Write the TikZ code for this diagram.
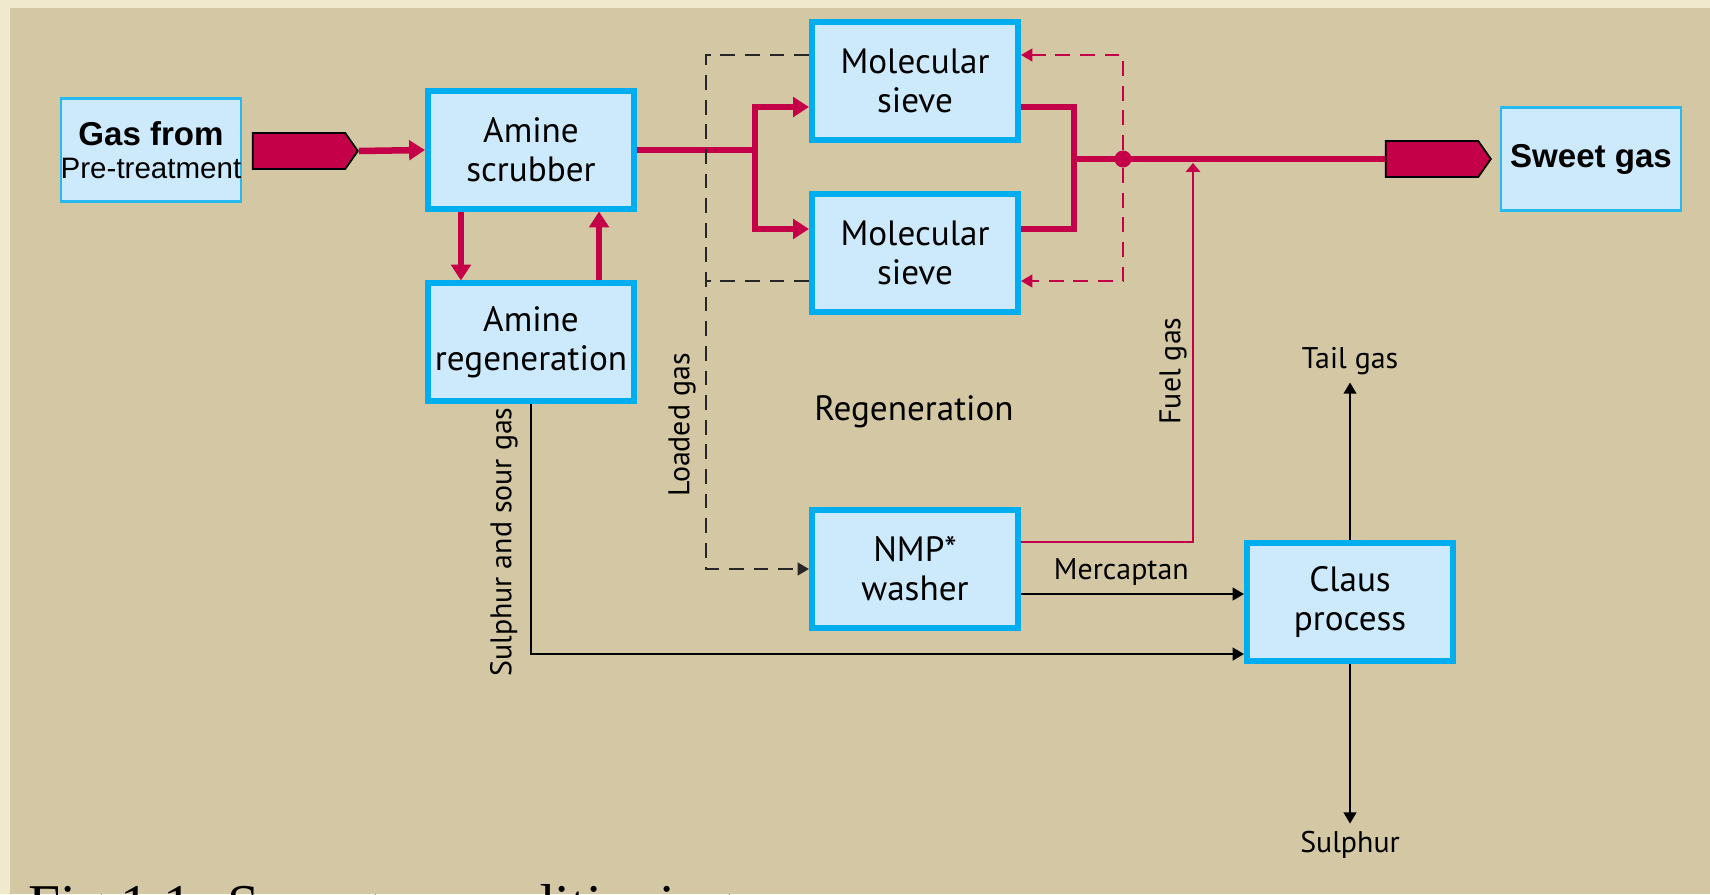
\documentclass[tikz,border=0pt]{standalone}
\usepackage{fontspec}
\setmainfont{PT Sans}
\newfontfamily\arialfont{Liberation Sans}
\newfontfamily\timesfont{Liberation Serif}
\usetikzlibrary{shapes.symbols, arrows.meta}
\definecolor{pagetan}{RGB}{211,200,163}
\definecolor{pageedge}{RGB}{240,233,206}
\definecolor{boxblue}{RGB}{0,174,239}
\definecolor{boxfill}{RGB}{204,234,252}
\definecolor{gasred}{RGB}{196,0,72}

\begin{document}
\begin{tikzpicture}[>={Triangle[length=3.2pt,width=3.6pt]}, x=0.01cm, y=-0.01cm]

        % Styles
        \tikzset{
            unit/.style={draw=boxblue, line width=1.7pt, fill=boxfill, align=center, minimum width=2.06cm, minimum height=1.17cm, inner sep=0pt, font=\fontsize{10}{11.1}\selectfont},
            term/.style={draw=boxblue!85, line width=0.6pt, fill=boxfill, align=center, minimum width=1.8cm, minimum height=1.03cm, inner sep=0pt},
            feed/.style={signal, signal to=east, signal pointer angle=110, draw=black, line width=0.5pt, fill=gasred, minimum width=1.05cm, minimum height=0.36cm, inner sep=0pt},
            tag/.style={font=\fontsize{8.5}{10}\selectfont, inner sep=2pt},
            pipe/.style={draw=gasred, line width=1.85pt},
            flow/.style={pipe, -{Triangle[length=4.5pt,width=5.5pt]}},
            loaded/.style={draw=black!85, line width=0.6pt, dash pattern=on 4.2pt off 2.8pt},
            purge/.style={draw=gasred, line width=0.6pt, dash pattern=on 4.2pt off 2.8pt},
            thinline/.style={draw=black, line width=0.6pt}
        }

        % --- FOND ---
        \useasboundingbox (0,0) rectangle (1710,894);
        \clip (0,0) rectangle (1710,894);
        \fill[pageedge] (0,0) rectangle (1710,894);
        \fill[pagetan] (10,8) rectangle (1710,894);

        % --- ENTRÉE / SORTIE ---
        \node[term] (feedgas) at (151,150) {{\arialfont\bfseries\fontsize{9.4}{10.5}\selectfont Gas from}\\[-2.5pt]{\arialfont\fontsize{8.4}{9.5}\selectfont Pre-treatment}};
        \node[feed] (inlet) at (299,151) {};
        \node[feed] (outlet) at (1432,159) {};
        \node[term] (sweet) at (1591,159) {\arialfont\bfseries\fontsize{9.4}{10.5}\selectfont Sweet gas};

        % --- UNITÉS ---
        \node[unit] (scrub) at (531,150) {Amine\\scrubber};
        \node[unit] (regen) at (531,342) {Amine\\regeneration};
        \node[unit] (sieveA) at (915,81) {Molecular\\sieve};
        \node[unit] (sieveB) at (915,253) {Molecular\\sieve};
        \node[unit] (nmp) at (915,569) {NMP*\\washer};
        \node[unit] (claus) at (1350,602) {Claus\\process};
        \node[circle, fill=gasred, minimum size=0.17cm, inner sep=0pt] (tee) at (1123,159) {};
        \coordinate (split) at (755,150);
        \coordinate (merge) at (1074,159);
        \coordinate (lgturn) at (706,569);
        \coordinate (fuelin) at (1193,163);

        % --- LIBELLÉS ---
        \node[font=\fontsize{10}{11}\selectfont] (regenlbl) at (914,412) {Regeneration};
        \node[tag, rotate=90] (loadlbl) at (682,425) {Loaded gas};
        \node[tag, rotate=90] (fuellbl) at (1173,371) {Fuel gas};
        \node[tag, rotate=90] (sourlbl) at (504,542) {Sulphur and sour gas};
        \node[tag] (tail) at (1350,361) {Tail gas};
        \node[tag] (sulphur) at (1350,845) {Sulphur};

        % --- CONNEXIONS ---
        % Ligne gaz principale
        \draw[flow] (inlet.east) -- (scrub.west);
        \draw[flow] ([xshift=-0.7cm]scrub.south) -- ([xshift=-0.7cm]regen.north);
        \draw[flow] ([xshift=0.68cm]regen.north) -- ([xshift=0.68cm]scrub.south);
        \draw[pipe] (scrub.east) -- (split);
        \draw[flow] (split) |- ([yshift=-0.26cm]sieveA.west);
        \draw[flow] (split) |- ([yshift=0.24cm]sieveB.west);
        \draw[pipe] ([yshift=-0.26cm]sieveA.east) -| (merge);
        \draw[pipe] ([yshift=0.24cm]sieveB.east) -| (merge);
        \draw[pipe] (merge) -- (outlet.west);

        % Régénération des tamis
        \draw[purge, ->] (tee) |- ([yshift=0.26cm]sieveA.east);
        \draw[purge, ->] (tee) |- ([yshift=-0.28cm]sieveB.east);
        \draw[loaded, ->] ([yshift=0.26cm]sieveA.west) -| (lgturn) -- (nmp.west);
        \draw[loaded] ([yshift=-0.28cm]sieveB.west) -- ([yshift=-0.28cm]sieveB.west -| lgturn);

        % Gaz de queue et soufre
        \draw[thinline, draw=gasred, -{Triangle[length=2.5pt,width=4pt]}] ([yshift=0.27cm]nmp.east) -| (fuelin);
        \draw[thinline, ->] ([yshift=-0.25cm]nmp.east) -- ([yshift=-0.25cm]nmp.east -| claus.west) node[tag, pos=0.45, above] {Mercaptan};
        \draw[thinline, ->] (regen.south) |- ([yshift=-0.52cm]claus.west);
        \draw[thinline, ->] (claus.north) -- (tail.south);
        \draw[thinline, ->] (claus.south) -- (sulphur.north);

        % --- LÉGENDE ---
        \node[anchor=base west, inner sep=0pt, font=\timesfont\fontsize{16.4}{18}\selectfont] (caption) at (28,924) {Fig 1.1: Sour gas conditioning};

    \end{tikzpicture}
\end{document}
